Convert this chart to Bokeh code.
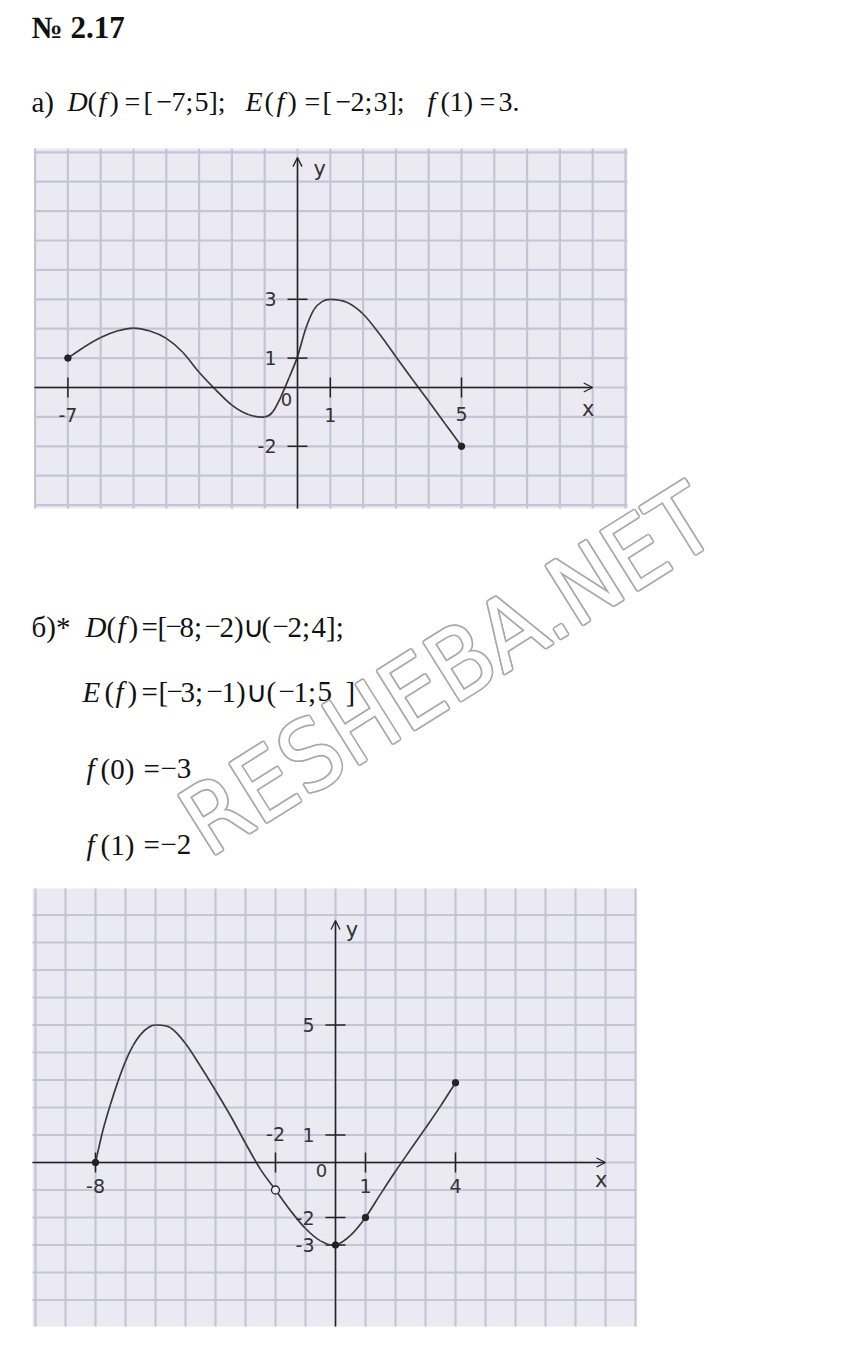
import math
from bokeh.plotting import figure
from bokeh.models import Range1d, Arrow, OpenHead
from bokeh.core.properties import value
from bokeh.embed import file_html
from bokeh.resources import INLINE

# ---------------- data ----------------
# graph (а)
a_curve_x = [-7, -6.5, -6, -5.5, -5, -4.5, -4, -3.5, -3, -2.5, -2, -1.5, -1, -0.75, -0.5,
             -0.25, 0, 0.25, 0.5, 0.75, 1, 1.5, 2, 2.5, 3, 3.5, 4, 4.5, 5]
a_curve_y = [1, 1.38, 1.7, 1.92, 2.02, 1.92, 1.67, 1.2, 0.52, -0.07, -0.6, -0.92, -1.0, -0.82, -0.3,
             0.35, 1.05, 2.0, 2.65, 2.92, 3.0, 2.9, 2.5, 1.82, 1.05, 0.28, -0.47, -1.23, -2.0]
a_dots_x = [-7, 5]
a_dots_y = [1, -2]
a_xticks = [-7, 1, 5]
a_xtick_text = ["-7", "1", "5"]
a_yticks = [3, 1, -2]
a_ytick_text = ["3", "1", "-2"]

# graph (б)
b_curve_x = [-8, -7.75, -7.5, -7.25, -7, -6.75, -6.5, -6.25, -6, -5.5, -5, -4.5, -4, -3.5, -3,
             -2.5, -2, -1.5, -1, -0.5, 0, 0.5, 1, 1.5, 2, 2.5, 3, 3.5, 4]
b_curve_y = [0, 1.18, 2.12, 2.95, 3.68, 4.25, 4.65, 4.9, 5.0, 4.9, 4.33, 3.5, 2.62, 1.7, 0.7,
             -0.25, -1.0, -1.75, -2.4, -2.85, -3.0, -2.65, -2.0, -1.15, -0.32, 0.47, 1.25, 2.05, 2.9]
b_dots_x = [-8, 0, 1, 4]
b_dots_y = [0, -3, -2, 2.9]
b_hole_x = [-2]
b_hole_y = [-1]
b_xticks = [-8, -2, 1, 4]
b_xtick_text = ["-8", "-2", "1", "4"]
b_yticks = [5, 1, -2, -3]
b_ytick_text = ["5", "1", "-2", "-3"]

title_text = "№ 2.17"
watermark = "RESHEBA.NET"

# ---------------- page figure ----------------
W, H = 847, 1343
X0, Y0 = 0, 0
p = figure(width=W, height=H, x_range=Range1d(X0, X0 + W), y_range=Range1d(Y0 + H, Y0),
           output_backend="svg", toolbar_location=None, min_border=0,
           x_axis_location=None, y_axis_location=None)
p.grid.visible = False
p.outline_line_color = None
p.background_fill_color = "white"
p.border_fill_color = "white"

PAPER = "#ebeaf2"
GRID = "#c5c3d6"
INK = "#232323"
LABEL = "#333333"
TXT = "#111111"
LBL_FONT = value("DejaVu Sans")
SERIF = value("Liberation Serif")


def bezier_parts(xs, ys):
    n = len(xs)
    out = dict(x0=[], y0=[], x1=[], y1=[], cx0=[], cy0=[], cx1=[], cy1=[])
    for i in range(n - 1):
        im, ip2 = max(i - 1, 0), min(i + 2, n - 1)
        out["x0"].append(xs[i]); out["y0"].append(ys[i])
        out["x1"].append(xs[i + 1]); out["y1"].append(ys[i + 1])
        out["cx0"].append(xs[i] + (xs[i + 1] - xs[im]) / 6)
        out["cy0"].append(ys[i] + (ys[i + 1] - ys[im]) / 6)
        out["cx1"].append(xs[i + 1] - (xs[ip2] - xs[i]) / 6)
        out["cy1"].append(ys[i + 1] - (ys[ip2] - ys[i]) / 6)
    return out


def graph(tag, box, origin, unit, cx, cy, dots, hole, xt, xtt, xoff, yt, ytt,
          xend, yend, xlab, ylab, zlab):
    ox, oy = origin
    ux, uy = unit
    p.extra_x_ranges[tag + "x"] = Range1d((X0 - ox) / ux, (X0 + W - ox) / ux)
    p.extra_y_ranges[tag + "y"] = Range1d((oy - (Y0 + H)) / uy, (oy - Y0) / uy)
    kw = dict(x_range_name=tag + "x", y_range_name=tag + "y")
    bl, bt, br, bb = box
    left, right = (bl - ox) / ux, (br - ox) / ux
    top, bottom = (oy - bt) / uy, (oy - bb) / uy
    p.quad(left=[left], right=[right], top=[top], bottom=[bottom],
           fill_color=PAPER, line_color=None, **kw)
    gx = list(range(math.ceil(left), math.floor(right) + 1))
    gy = list(range(math.ceil(bottom), math.floor(top) + 1))
    p.segment(x0=gx, y0=[bottom] * len(gx), x1=gx, y1=[top] * len(gx),
              line_color=GRID, line_width=2.2, **kw)
    p.segment(x0=[left] * len(gy), y0=gy, x1=[right] * len(gy), y1=gy,
              line_color=GRID, line_width=2.2, **kw)
    # axes
    p.add_layout(Arrow(x_start=left, y_start=0, x_end=xend, y_end=0, line_color=INK, line_width=1.5,
                       end=OpenHead(size=9, line_color=INK, line_width=1.3), **kw))
    p.add_layout(Arrow(x_start=0, y_start=bottom, x_end=0, y_end=yend, line_color=INK, line_width=1.5,
                       end=OpenHead(size=9, line_color=INK, line_width=1.3), **kw))
    tx, ty = 10 / ux, 10 / uy
    p.segment(x0=xt, y0=[-ty] * len(xt), x1=xt, y1=[ty] * len(xt), line_color=INK, line_width=1.5, **kw)
    p.segment(x0=[-tx] * len(yt), y0=yt, x1=[tx] * len(yt), y1=yt, line_color=INK, line_width=1.5, **kw)
    # curve
    bz = bezier_parts(cx, cy)
    p.bezier(**bz, line_color="#3a3a3a", line_width=1.7, **kw)
    p.scatter(x=dots[0], y=dots[1], size=6.5, color=INK, **kw)
    if hole:
        p.scatter(x=hole[0], y=hole[1], size=8, fill_color=PAPER, line_color=INK, line_width=1.3, **kw)
    # labels
    p.text(x=xt, y=[0] * len(xt), text=xtt, y_offset=xoff, text_align="center", text_baseline="middle",
           text_font=LBL_FONT, text_font_size="19px", text_color=LABEL, **kw)
    p.text(x=[0] * len(yt), y=yt, text=ytt, x_offset=-21, text_align="right", text_baseline="middle",
           text_font=LBL_FONT, text_font_size="19px", text_color=LABEL, **kw)
    p.text(x=[xlab[0]], y=[xlab[1]], text=["x"], text_align="center", text_baseline="middle",
           text_font=LBL_FONT, text_font_size="21px", text_color=LABEL, **kw)
    p.text(x=[ylab[0]], y=[ylab[1]], text=["y"], text_align="center", text_baseline="middle",
           text_font=LBL_FONT, text_font_size="21px", text_color=LABEL, **kw)
    p.text(x=[0], y=[0], text=["0"], x_offset=zlab[0], y_offset=zlab[1], text_align="center",
           text_baseline="middle", text_font=LBL_FONT, text_font_size="18px", text_color=LABEL, **kw)


graph("a", (34, 148, 627, 508), (297, 387), (32.8, 29.4), a_curve_x, a_curve_y,
      (a_dots_x, a_dots_y), None, a_xticks, a_xtick_text, [27, 27, 26], a_yticks, a_ytick_text,
      9.0, 7.82, (8.86, -0.72), (0.68, 7.44), (-11, 12))

graph("b", (32, 888, 636, 1326), (335, 1162), (30, 27.5), b_curve_x, b_curve_y,
      (b_dots_x, b_dots_y), (b_hole_x, b_hole_y), b_xticks, b_xtick_text, [23, -29, 23, 23],
      b_yticks, b_ytick_text, 9.0, 8.8, (8.86, -0.62), (0.55, 8.44), (-14, 8))

# ---------------- texts ----------------
def put(tokens, center, size, font=SERIF):
    for style in ("normal", "italic", "bold"):
        sel = [(t, x) for t, x, s in tokens if s == style]
        if sel:
            p.text(x=[x for t, x in sel], y=[center] * len(sel), text=[t for t, x in sel],
                   text_font=font, text_font_size=f"{size}px", text_font_style=style,
                   text_align="left", text_baseline="middle", text_color=TXT)

n, i, b = "normal", "italic", "bold"
put([(title_text, 31, b)], 27, 31)
put([("а)", 31, n)], 101, 29)
put([("D", 67, i), ("(", 87, n), ("f", 98, i), (")", 109, n), ("=", 124, n),
     ("[", 143, n), ("−", 156, n), ("7;", 171, n), ("5", 194, n), ("];", 208, n),
     ("E", 245, i), ("(", 264, n), ("f", 276, i), (")", 287, n), ("=", 304, n), ("[", 322, n),
     ("−", 335, n), ("2;", 350, n), ("3", 373, n), ("];", 387, n),
     ("f", 427, i), ("(1)", 440, n), ("=", 479, n), ("3.", 498, n)], 101, 28)
put([("б)*", 31, n), ("D", 85, i), ("(", 106, n), ("f", 117, i), (")", 128, n), ("=", 141, n),
     ("[", 157, n), ("−", 165, n), ("8;", 179, n), ("−", 204, n), ("2)", 219, n), ("∪", 242, n),
     ("(", 261, n), ("−", 272, n), ("2;", 287, n), ("4];", 311, n)], 626, 29)
put([("E", 82, i), ("(", 104, n), ("f", 115, i), (")", 127, n), ("=", 141, n),
     ("[", 158, n), ("−", 166, n), ("3;", 180, n), ("−", 206, n), ("1)", 221, n), ("∪", 245, n),
     ("(", 266, n), ("−", 278, n), ("1;", 293, n), ("5", 317, n), ("]", 345, n)], 691, 29)
put([("f", 86, i), ("(0)", 100, n), ("=", 143, n), ("−3", 160, n)], 768, 29)
put([("f", 86, i), ("(1)", 100, n), ("=", 143, n), ("−2", 160, n)], 844, 29)

# ---------------- watermark ----------------
WM_FONT = value("Liberation Sans Narrow, DejaVu Sans Condensed, Liberation Sans, sans-serif")
WX, WY = 447, 670
for dx, dy in [(-1.2, -1.2), (1.2, -1.2), (-1.2, 1.2), (1.2, 1.2), (0, 1.7), (0, -1.7), (1.7, 0), (-1.7, 0)]:
    p.text(x=[WX], y=[WY], text=[watermark], angle=32, angle_units="deg", x_offset=dx, y_offset=dy,
           text_align="center", text_baseline="middle", text_font=WM_FONT, text_font_size="96px",
           text_color="#a9a9a9")
p.text(x=[WX], y=[WY], text=[watermark], angle=32, angle_units="deg",
       text_align="center", text_baseline="middle", text_font=WM_FONT, text_font_size="96px",
       text_color="white")

open("out.html", "w").write(file_html(p, INLINE))
